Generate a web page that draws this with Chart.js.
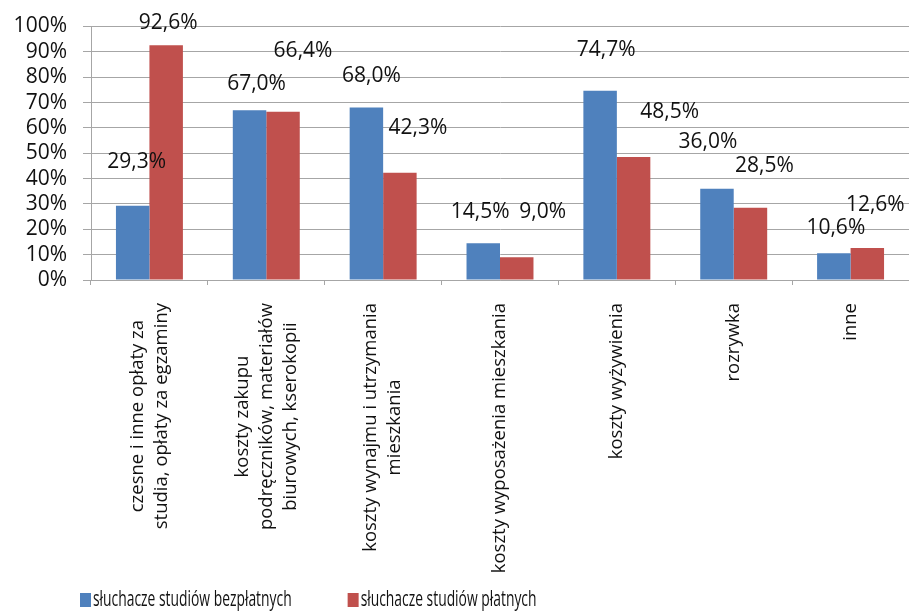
<!DOCTYPE html>
<html>
<head>
<meta charset="utf-8">
<script src="https://cdn.jsdelivr.net/npm/chart.js@4/dist/chart.umd.min.js"></script>
<style>
  html, body { margin: 0; padding: 0; background: #fff; }
  #wrap { width: 909px; height: 612px; }
</style>
</head>
<body>
<div id="wrap"><canvas id="chart"></canvas></div>
<script>
/* global document, Chart */

// Data
const categories = [
  ["czesne i inne opłaty za", "studia, opłaty za egzaminy"],
  ["koszty zakupu", "podręczników, materiałów", "biurowych, kserokopii"],
  ["koszty wynajmu i utrzymania", "mieszkania"],
  ["koszty wyposażenia mieszkania"],
  ["koszty wyżywienia"],
  ["rozrywka"],
  ["inne"]
];
const freeStudents = [29.3, 67.0, 68.0, 14.5, 74.7, 36.0, 10.6];
const paidStudents = [92.6, 66.4, 42.3, 9.0, 48.5, 28.5, 12.6];
const seriesNames = ["słuchacze studiów bezpłatnych", "słuchacze studiów płatnych"];
const yTicks = [0, 10, 20, 30, 40, 50, 60, 70, 80, 90, 100];

// Colors
const blue = "#4F81BD";
const red = "#C0504D";
const gridGray = "#A6A6A6";
const textColor = "#111111";

// Where Excel put each value label, relative to the top of its bar (px)
const labelShift = [
  [[4, -44], [7, -26], [5, -32], [-3, -31], [6, -41], [-9, -47], [2, -25]],
  [[2, -22], [20, -61], [18, -45], [26, -45], [36, -45], [14, -42], [8, -43]]
];

const pct = v => v.toFixed(1).replace(".", ",") + "%";

// Value labels
const valueLabels = {
  id: "valueLabels",
  afterDatasetsDraw(chart) {
    const c = chart.ctx;
    c.save();
    c.font = "21px 'Open Sans'";
    c.fillStyle = textColor;
    c.textAlign = "center";
    c.textBaseline = "middle";
    chart.data.datasets.forEach((ds, i) => {
      chart.getDatasetMeta(i).data.forEach((bar, j) => {
        const [dx, dy] = labelShift[i][j];
        c.fillText(pct(ds.data[j]), bar.x + dx, bar.y + dy);
      });
    });
    c.restore();
  }
};

// Rotated, centered multi-line category labels
const categoryLabels = {
  id: "categoryLabels",
  afterDraw(chart) {
    const c = chart.ctx;
    const x = chart.scales.x;
    const lineH = 24;
    c.save();
    c.font = "18.5px 'Open Sans'";
    c.fillStyle = textColor;
    c.textAlign = "center";
    c.textBaseline = "middle";
    chart.data.labels.forEach((lines, i) => {
      const w = Math.max(...lines.map(l => c.measureText(l).width));
      c.save();
      c.translate(x.getPixelForValue(i), x.bottom + 18);
      c.rotate(-Math.PI / 2);
      lines.forEach((l, k) => {
        c.fillText(l, -w / 2, (k - (lines.length - 1) / 2) * lineH);
      });
      c.restore();
    });
    c.restore();
  }
};

// Legend at the bottom left, as in the source (narrow lettering)
const bottomLegend = {
  id: "bottomLegend",
  afterDraw(chart) {
    const c = chart.ctx;
    const squeeze = 0.66;
    c.save();
    c.font = "21px 'Open Sans'";
    c.textBaseline = "middle";
    let cx = 80;
    const cy = chart.height - 12;
    chart.data.datasets.forEach(ds => {
      c.fillStyle = ds.backgroundColor;
      c.fillRect(cx, cy - 7, 11, 14);
      c.fillStyle = textColor;
      c.save();
      c.translate(cx + 13, cy);
      c.scale(squeeze, 1);
      c.fillText(ds.label, 0, 0);
      c.restore();
      cx += 13 + c.measureText(ds.label).width * squeeze + 56;
    });
    c.restore();
  }
};

new Chart(document.getElementById("chart"), {
  type: "bar",
  data: {
    labels: categories,
    datasets: [
      {label: seriesNames[0], data: freeStudents, backgroundColor: blue},
      {label: seriesNames[1], data: paidStudents, backgroundColor: red}
    ]
  },
  options: {
    responsive: true,
    maintainAspectRatio: false,
    animation: false,
    layout: {padding: {top: 25, right: 0, bottom: 327, left: 0}},
    datasets: {bar: {categoryPercentage: 0.573, barPercentage: 1}},
    plugins: {
      legend: {display: false},
      tooltip: {enabled: false}
    },
    scales: {
      x: {
        grid: {drawOnChartArea: false, color: gridGray, tickLength: 5},
        border: {color: gridGray},
        ticks: {display: false}
      },
      y: {
        min: 0,
        max: 100,
        afterFit: scale => { scale.width = 91; },
        afterBuildTicks: scale => { scale.ticks = yTicks.map(value => ({value})); },
        grid: {color: gridGray, tickLength: 8},
        border: {color: gridGray},
        ticks: {
          autoSkip: false,
          padding: 16,
          color: textColor,
          font: {family: "'Open Sans'", size: 21, lineHeight: 1},
          callback: v => v + "%"
        }
      }
    }
  },
  plugins: [valueLabels, categoryLabels, bottomLegend]
});
</script>
</body>
</html>
